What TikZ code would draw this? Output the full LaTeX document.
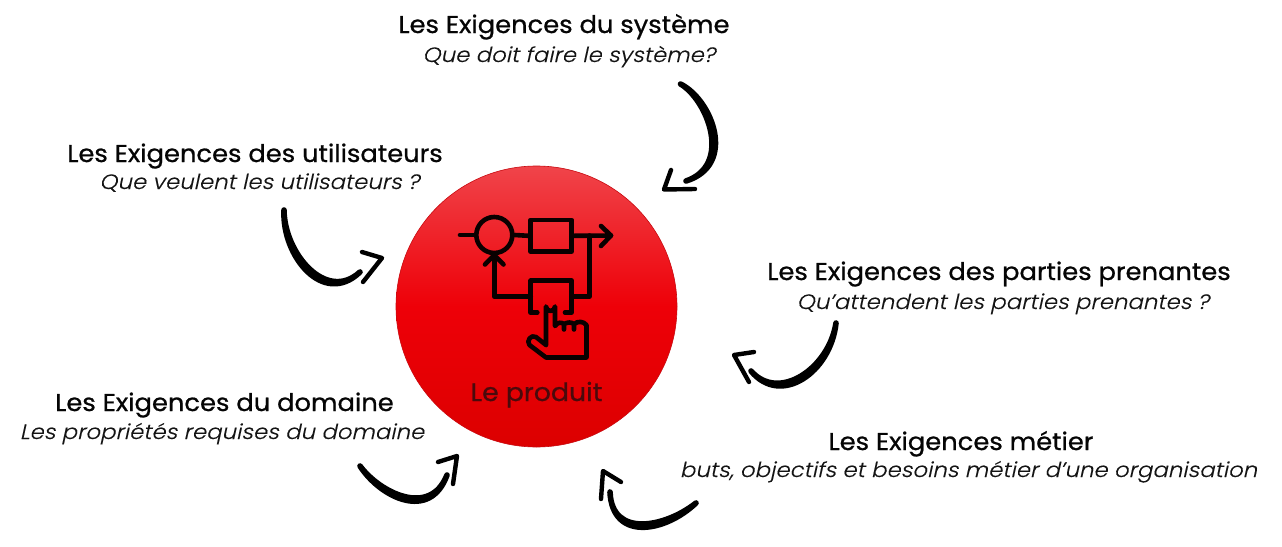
\documentclass[tikz,border=0pt]{standalone}
\usepackage{fontspec}
\setmainfont{Poppins}
\usetikzlibrary{calc}
\newfontfamily\titlefont[FakeBold=0.8,FakeStretch=1.06]{Poppins}
\newfontfamily\subfont[FakeSlant=0.22,FakeStretch=1.1,FakeBold=0.25]{Poppins Light}
\definecolor{inktext}{HTML}{050505}
\definecolor{subtext}{HTML}{141414}
\definecolor{redtop}{HTML}{F0444A}
\definecolor{redmid}{HTML}{EE0008}
\definecolor{redbot}{HTML}{DC0000}
\definecolor{redline}{HTML}{C80A10}
\definecolor{prodtext}{HTML}{4A0A0C}
\definecolor{iconink}{HTML}{0A0000}
\tikzset{
  titletext/.style={anchor=base,inner sep=0pt,text=inktext,font=\titlefont\fontsize{24.3}{26}\selectfont},
  subtext/.style={anchor=base,inner sep=0pt,text=subtext,font=\subfont\fontsize{20.8}{26}\selectfont},
  hookbody/.style={fill=black,draw=black,line width=5.6pt,line join=round,line cap=round},
  hookhead/.style={draw=black,line width=4.4pt,line join=round,line cap=round},
  iconline/.style={draw=iconink,line width=4.6pt,line join=round,line cap=round},
}
\newcommand{\bentarrow}[8]{%
  \path[hookbody] (#1) .. controls ($(#2)+(#5)$) and ($(#3)+(#5)$) .. (#4)
     .. controls ($(#3)-(#5)$) and ($(#2)-(#5)$) .. (#1) -- cycle;
  \draw[hookhead] (#7) -- (#6) -- (#8);
}
\begin{document}
\begin{tikzpicture}[x=1pt,y=-1pt]
\useasboundingbox (0,0) rectangle (1282,546);
% product disc
\node[circle,minimum size=281pt,inner sep=0pt,draw=redline,line width=0.6pt,
  top color=redtop,bottom color=redbot,middle color=redmid] (produit) at (536.5,306.5) {};
\node[anchor=base,inner sep=0pt,text=prodtext,font=\titlefont\fontsize{25.2}{26}\selectfont] (produitlabel) at (536.5,401) {Le produit};
% icon
\node[circle,draw=iconink,line width=4.6pt,minimum size=36pt,inner sep=0pt] (sum) at (494.3,235) {};
\node[rectangle,draw=iconink,line width=4.6pt,line join=round,minimum width=41pt,minimum height=31.5pt,inner sep=0pt] (blockA) at (551.2,235.8) {};
\coordinate (inp) at (460,235);
\coordinate (tip) at (611,235.5);
\coordinate (tee) at (589.3,235.5);
\draw[iconline] (inp) -- (sum.west);
\draw[iconline] (sum.east) -- (blockA.west);
\draw[iconline] (blockA.east) -- (tip);
\draw[iconline] (601,226) -- (tip) -- (601,246);
\draw[iconline] (tee) -- (589.3,296.7) -- (571.7,296.7);
\draw[iconline] (537.3,312.5) -- (530.7,312.5) -- (530.7,280.7) -- (571.7,280.7) -- (571.7,312.5) -- (565,312.5);
\draw[iconline] (530.7,296.7) -- (494.3,296.7) -- (sum.south);
\draw[iconline] (485,264.5) -- (494.3,255) -- (503.5,264.5);
\draw[iconline] (546,345) -- (546,306.5) arc[start angle=180,end angle=0,radius=4.5] -- (555,326)
  .. controls (558,322) and (561,322) .. (564,324) -- (564,329.5)
  (564,324) .. controls (568,322) and (571,322) .. (574,324) -- (574,329.5)
  (574,324) .. controls (578,321) and (583,321) .. (586.5,325) -- (586.5,357.5) -- (546,357.5) -- (529.5,345)
  .. controls (526,341) and (531,334) .. (536,337) -- (546,345);
% texts
\node[titletext] (tsys) at (564,33) {Les Exigences du système};
\node[subtext] (ssys) at (569,62) {Que doit faire le système?};
\node[titletext] (tuse) at (255,162) {Les Exigences des utilisateurs};
\node[subtext] (suse) at (259.5,189) {Que veulent les utilisateurs ?};
\node[titletext] (tpar) at (999,280) {Les Exigences des parties prenantes};
\node[subtext] (spar) at (1003,309) {Qu’attendent les parties prenantes ?};
\node[titletext] (tmet) at (961,450) {Les Exigences métier};
\node[subtext] (smet) at (968.5,477) {buts, objectifs et besoins métier d’une organisation};
\node[titletext] (tdom) at (224.5,411) {Les Exigences du domaine};
\node[subtext] (sdom) at (222,439) {Les propriétés requises du domaine};
% arrows
\bentarrow{680.5,84}{710,100}{735,165}{686,181}{2.4,0}{664,189.5}{671,170}{695,189}
\bentarrow{284,210}{283,255}{325,305}{360,272}{-1.2,2}{382,258}{362,252}{363,282}
\bentarrow{836,323}{830,370}{780,405}{751,371}{0.8,2.2}{734,355}{754,352}{749,382}
\bentarrow{696,503}{665,530}{612,540}{610,492}{0.4,2.2}{603,471}{621,482}{601,499}
\bentarrow{360,466}{380,495}{430,520}{447,475}{0,2.2}{457,456}{438,462}{453,484}
\end{tikzpicture}
\end{document}
